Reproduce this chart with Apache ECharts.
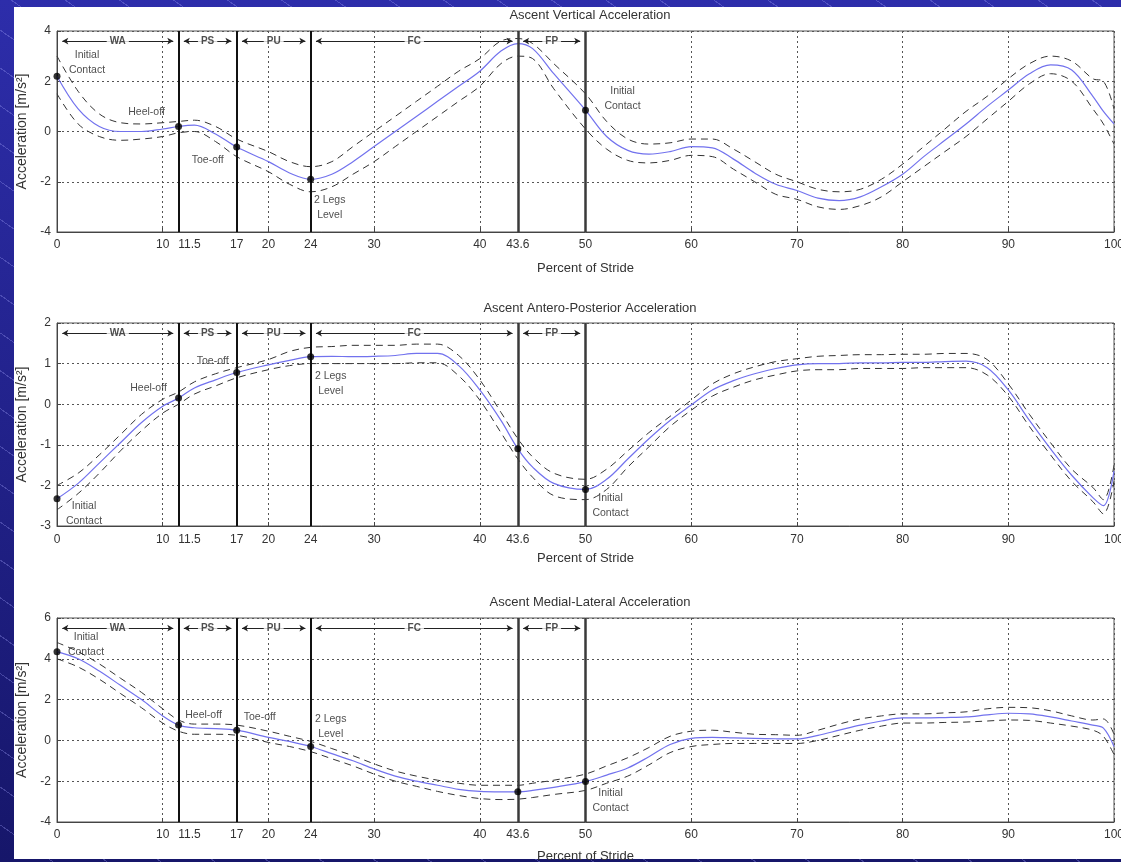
<!DOCTYPE html>
<html>
<head>
<meta charset="utf-8">
<script src="https://cdn.jsdelivr.net/npm/echarts@6/dist/echarts.min.js"></script>
<style>
html,body{margin:0;padding:0;width:1121px;height:862px;overflow:hidden;}
body{
  background:
    repeating-linear-gradient(35deg, rgba(150,150,240,0) 0px, rgba(150,150,240,0) 30px, rgba(150,150,240,0.35) 30px, rgba(150,150,240,0.35) 31px),
    linear-gradient(#2d2daa, #16166a);
}
#panel{position:absolute;left:14px;top:7px;width:1107px;height:852px;background:#fff;}
#chart{position:absolute;left:0;top:0;width:1121px;height:862px;}
</style>
</head>
<body>
<div id="panel"></div>
<div id="chart"></div>
<script>
// ---------------- DATA ----------------
const strideX = [0,2,4,6,8,10, 11.5,13,15,17, 20,22,24,26,28,30, 32,34,36,38,40,42, 43.6,45,47,50, 52,54,56,58,60, 62,64,66,68,70, 72,74,76,78,80, 82,84,86,88,90, 92,94,96,98,99,100];

const xTickLabels = [0,10,11.5,17,20,24,30,40,43.6,50,60,70,80,90,100];

// Vertical acceleration
const vertMean  = [2.2,0.9,0.2,0.0,0.0,0.1, 0.2,0.25,-0.1,-0.62, -1.2,-1.65,-1.9,-1.7,-1.2,-0.6, 0.0,0.6,1.2,1.8,2.4,3.2, 3.5,3.3,2.3,0.85, -0.2,-0.75,-0.9,-0.8,-0.6, -0.65,-1.1,-1.65,-2.1,-2.35, -2.65,-2.75,-2.6,-2.2,-1.7, -1.0,-0.35,0.3,1.0,1.65, 2.3,2.65,2.45,1.4,0.8,0.3];
const vertUpper = [3.0,1.6,0.7,0.35,0.3,0.35, 0.4,0.45,0.2,-0.3, -0.8,-1.2,-1.4,-1.2,-0.6,0.0, 0.6,1.2,1.8,2.4,2.9,3.6, 3.7,3.5,2.7,1.5, 0.4,-0.3,-0.5,-0.45,-0.3, -0.3,-0.7,-1.2,-1.7,-2.0, -2.3,-2.4,-2.3,-1.9,-1.3, -0.6,0.1,0.8,1.4,2.1, 2.7,3.0,2.8,2.1,2.0,0.9];
const vertLower = [1.5,0.3,-0.2,-0.35,-0.3,-0.2, -0.05,0.0,-0.4,-1.0, -1.6,-2.1,-2.4,-2.2,-1.7,-1.2, -0.6,0.0,0.6,1.2,1.8,2.7, 3.0,2.9,1.7,0.1, -0.7,-1.15,-1.25,-1.15,-0.95, -1.0,-1.5,-2.0,-2.5,-2.7, -3.0,-3.1,-2.95,-2.6,-2.0, -1.4,-0.8,-0.2,0.5,1.2, 1.9,2.3,2.0,0.9,0.3,-0.5];

// Antero-posterior acceleration
const apMean  = [-2.33,-1.95,-1.45,-0.95,-0.45,-0.05, 0.15,0.4,0.6,0.78, 0.97,1.08,1.17,1.18,1.17,1.18, 1.2,1.25,1.25,0.95,0.35,-0.4, -1.1,-1.55,-1.95,-2.1, -1.85,-1.35,-0.85,-0.4,-0.02, 0.35,0.58,0.75,0.88,0.97, 1.0,1.0,1.02,1.02,1.03, 1.03,1.05,1.06,0.9,0.35, -0.4,-1.1,-1.75,-2.3,-2.5,-1.65];
const apUpper = [-2.0,-1.7,-1.25,-0.75,-0.25,0.12, 0.3,0.55,0.75,0.9, 1.1,1.3,1.4,1.42,1.45,1.45, 1.45,1.48,1.48,1.2,0.6,-0.2, -0.85,-1.3,-1.7,-1.85, -1.6,-1.15,-0.7,-0.3,0.1, 0.5,0.75,0.92,1.05,1.12, 1.18,1.2,1.22,1.22,1.23, 1.23,1.25,1.25,1.1,0.5, -0.25,-0.95,-1.6,-2.05,-2.35,-1.5];
const apLower = [-2.6,-2.2,-1.7,-1.15,-0.65,-0.22, 0.0,0.25,0.45,0.65, 0.85,0.95,1.0,1.0,1.0,1.0, 1.0,1.02,1.02,0.7,0.1,-0.7, -1.35,-1.8,-2.25,-2.35, -2.1,-1.55,-1.05,-0.55,-0.15, 0.2,0.42,0.6,0.72,0.82, 0.85,0.85,0.88,0.88,0.88, 0.9,0.9,0.9,0.72,0.2, -0.55,-1.25,-1.9,-2.4,-2.7,-1.9];

// Medial-lateral acceleration
const mlMean  = [4.35,4.0,3.4,2.7,2.0,1.2, 0.75,0.62,0.58,0.5, 0.15,-0.05,-0.3,-0.65,-1.0,-1.4, -1.75,-2.0,-2.2,-2.4,-2.5,-2.52, -2.52,-2.45,-2.3,-2.02, -1.7,-1.35,-0.8,-0.2,0.1, 0.15,0.12,0.1,0.08,0.07, 0.25,0.5,0.75,0.95,1.1, 1.1,1.12,1.15,1.25,1.33, 1.3,1.15,0.95,0.75,0.6,-0.3];
const mlUpper = [4.8,4.35,3.75,3.05,2.35,1.55, 1.0,0.8,0.8,0.75, 0.45,0.2,-0.05,-0.4,-0.75,-1.15, -1.5,-1.75,-1.95,-2.1,-2.2,-2.2, -2.2,-2.1,-1.95,-1.65, -1.25,-0.85,-0.35,0.2,0.45, 0.5,0.4,0.3,0.28,0.25, 0.5,0.8,1.05,1.2,1.3, 1.3,1.35,1.4,1.55,1.62, 1.6,1.45,1.2,1.0,1.05,0.3];
const mlLower = [4.0,3.6,3.0,2.3,1.6,0.85, 0.45,0.3,0.3,0.25, -0.1,-0.3,-0.55,-0.9,-1.25,-1.65, -2.0,-2.25,-2.5,-2.7,-2.85,-2.9, -2.88,-2.8,-2.65,-2.45, -2.1,-1.75,-1.2,-0.6,-0.3, -0.2,-0.15,-0.15,-0.15,-0.15, 0.0,0.25,0.5,0.7,0.85, 0.85,0.88,0.9,0.95,1.0, 0.98,0.85,0.7,0.5,0.2,-0.7];

const eventX     = [0, 11.5, 17, 24, 43.6, 50];
const eventNames = ['Initial\nContact', 'Heel-off', 'Toe-off', '2 Legs\nLevel', '', 'Initial\nContact'];
const phaseStart = [0, 11.5, 17, 24, 43.6];
const phaseEnd   = [11.5, 17, 24, 43.6, 50];
const phaseNames = ['WA', 'PS', 'PU', 'FC', 'FP'];

const chartTitles = ['Ascent Vertical Acceleration', 'Ascent Antero-Posterior Acceleration', 'Ascent Medial-Lateral Acceleration'];
const yMins = [-4, -3, -4];
const yMaxs = [4, 2, 6];
const yIntervals = [2, 1, 2];
const xAxisName = 'Percent of Stride';
const yAxisName = 'Acceleration [m/s²]';

// ---------------- STYLE / LAYOUT ----------------
const FONT = 'Liberation Sans, Arial, Helvetica, sans-serif';
const layouts = [
  {top: 31,  height: 201, titleTop: 4,   nameGap: 30, labelMargin: 7},
  {top: 323, height: 203, titleTop: 297, nameGap: 26, labelMargin: 8},
  {top: 618, height: 204, titleTop: 591, nameGap: 28, labelMargin: 7}
];
// label offsets (pixels) relative to each event dot; null = dot hidden
const eventLabelOffsets = [
  [[30,-14], [-32,-14], [-29,13], [19,28], null,   [37,-12]],
  [[27,15],  [-30,-10], [-24,-11], [20,27], [0,0], [25,16]],
  [[29,-7],  [25,-10],  [23,-13],  [20,-20], [0,0], [25,19]]
];
const groups = [
  {mean: vertMean, upper: vertUpper, lower: vertLower},
  {mean: apMean,   upper: apUpper,   lower: apLower},
  {mean: mlMean,   upper: mlUpper,   lower: mlLower}
];

function zipXY(ys) { return strideX.map((x, i) => [x, ys[i]]); }
function meanAt(ys, x) { return ys[strideX.indexOf(x)]; }

const option = {
  animation: false,
  backgroundColor: 'transparent',
  title: [], grid: [], xAxis: [], yAxis: [], series: []
};

groups.forEach((g, i) => {
  const L = layouts[i];
  option.title.push({
    text: chartTitles[i], left: 585, top: L.titleTop, textAlign: 'center',
    textStyle: {fontSize: 13, fontWeight: 'normal', color: '#333', fontFamily: FONT}
  });
  option.grid.push({
    left: 57, top: L.top, width: 1057, height: L.height,
    outerBoundsMode: 'none', containLabel: false,
    show: true, borderColor: '#555', borderWidth: 1, backgroundColor: 'transparent'
  });
  option.xAxis.push({
    gridIndex: i, type: 'value', min: 0, max: 100, interval: 10,
    name: xAxisName, nameLocation: 'middle', nameGap: L.nameGap,
    nameTextStyle: {fontSize: 13, color: '#333', fontFamily: FONT},
    axisLine: {show: true, onZero: false, lineStyle: {color: '#444', width: 1}},
    axisTick: {show: true, inside: true, length: 4, lineStyle: {color: '#444'}},
    axisLabel: {
      customValues: xTickLabels, margin: L.labelMargin, fontSize: 12, color: '#333', fontFamily: FONT,
      formatter: v => (v === 11.5 ? '{r|' + v + '}' : String(v)),
      rich: {r: {fontSize: 12, color: '#333', fontFamily: FONT, padding: [0, 0, 0, 22]}}
    },
    splitLine: {show: true, lineStyle: {color: '#555', type: [2, 3], width: 1}}
  });
  option.yAxis.push({
    gridIndex: i, type: 'value', min: yMins[i], max: yMaxs[i], interval: yIntervals[i],
    name: yAxisName, nameLocation: 'middle', nameGap: 24, nameRotate: 90,
    nameTextStyle: {fontSize: 14, color: '#333', fontFamily: FONT},
    axisLine: {show: true, onZero: false, lineStyle: {color: '#444', width: 1}},
    axisTick: {show: true, inside: true, length: 4, lineStyle: {color: '#444'}},
    axisLabel: {margin: 6, fontSize: 12, color: '#333', fontFamily: FONT},
    splitLine: {show: true, lineStyle: {color: '#555', type: [2, 3], width: 1}}
  });

  const dashStyle = {color: '#333', width: 1, type: [7, 5]};
  option.series.push({
    type: 'line', xAxisIndex: i, yAxisIndex: i, data: zipXY(g.upper),
    showSymbol: false, smooth: 0.35, lineStyle: dashStyle, z: 3, silent: true
  });
  option.series.push({
    type: 'line', xAxisIndex: i, yAxisIndex: i, data: zipXY(g.lower),
    showSymbol: false, smooth: 0.35, lineStyle: dashStyle, z: 3, silent: true
  });
  option.series.push({
    type: 'line', xAxisIndex: i, yAxisIndex: i, data: zipXY(g.mean),
    showSymbol: false, smooth: 0.35, lineStyle: {color: '#7272ee', width: 1.2}, z: 4, silent: true,
    markLine: {
      silent: true, symbol: ['none', 'none'], label: {show: false}, animation: false,
      data: eventX.slice(1).map(x => ({
        xAxis: x,
        lineStyle: {color: x >= 43 ? '#3a3a3a' : '#111', width: x >= 43 ? 2.5 : 2, type: 'solid'}
      }))
    }
  });

  // phase arrows + labels
  const yA = yMaxs[i] - 0.05 * (yMaxs[i] - yMins[i]);
  option.series.push({
    type: 'scatter', xAxisIndex: i, yAxisIndex: i, z: 6, silent: true,
    symbolSize: 1, itemStyle: {color: 'rgba(0,0,0,0)'},
    data: phaseNames.map((n, k) => [(phaseStart[k] + phaseEnd[k]) / 2, yA, n]),
    label: {
      show: true, position: 'inside', formatter: p => p.data[2],
      fontSize: 10, fontWeight: 'bold', color: '#222', fontFamily: FONT,
      backgroundColor: '#fff', padding: [0, 3]
    },
    markLine: {
      silent: true, animation: false, symbol: ['arrow', 'arrow'], symbolSize: [5, 6],
      label: {show: false},
      lineStyle: {color: '#222', width: 1, type: 'solid'},
      data: phaseNames.map((n, k) => [
        {coord: [phaseStart[k] + 0.5, yA]},
        {coord: [phaseEnd[k] - 0.5, yA]}
      ])
    }
  });

  // event dots + annotations
  const evData = [];
  eventX.forEach((x, k) => {
    const off = eventLabelOffsets[i][k];
    if (!off) return;
    evData.push({
      value: [x, meanAt(g.mean, x)],
      label: {
        show: eventNames[k] !== '', position: 'inside', offset: off,
        formatter: eventNames[k], align: 'center', verticalAlign: 'middle',
        fontSize: 10.5, lineHeight: 15, color: '#222', fontFamily: FONT
      }
    });
  });
  option.series.push({
    type: 'scatter', xAxisIndex: i, yAxisIndex: i, z: 7, silent: true,
    symbol: 'circle', symbolSize: 7, itemStyle: {color: '#000'},
    data: evData
  });
});

const chart = echarts.init(document.getElementById('chart'), null, {renderer: 'canvas'});
chart.setOption(option);
</script>
</body>
</html>
